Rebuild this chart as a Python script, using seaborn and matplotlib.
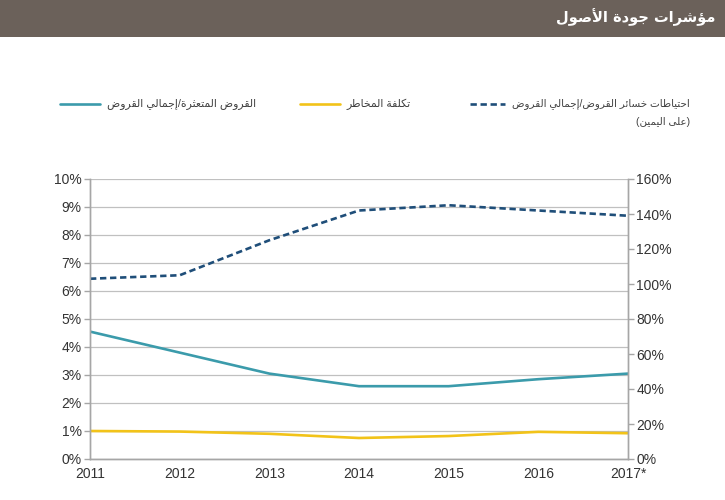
import numpy as np
import pandas as pd
import seaborn as sns
import matplotlib.pyplot as plt
from matplotlib.patches import Rectangle
from matplotlib.lines import Line2D

years = ["2011", "2012", "2013", "2014", "2015", "2016", "2017*"]
npl_ratio = [4.55, 3.8, 3.05, 2.6, 2.6, 2.85, 3.05]
cost_of_risk = [1.0, 0.98, 0.9, 0.75, 0.82, 0.97, 0.92]
coverage_ratio = [103, 105, 125, 142, 145, 142, 139]

title = "مؤشرات جودة الأصول"
lbl_npl = "القروض المتعثرة/إجمالي القروض"
lbl_cor = "تكلفة المخاطر"
lbl_cov1 = "احتياطات خسائر القروض/إجمالي القروض"
lbl_cov2 = "(على اليمين)"

TEAL = "#3b9bab"
YELLOW = "#f2c319"
NAVY = "#1f4e79"
GRID = "#c0c0c0"
AXIS = "#a6a6a6"
DASH = (0, (2.4, 1.4))

# --- minimal Arabic shaping (matplotlib has no bidi/joining support) ---
_letters = [("ء", 1), ("آ", 2), ("أ", 2), ("ؤ", 2), ("إ", 2), ("ئ", 4), ("ا", 2),
            ("ب", 4), ("ة", 2), ("ت", 4), ("ث", 4), ("ج", 4), ("ح", 4), ("خ", 4),
            ("د", 2), ("ذ", 2), ("ر", 2), ("ز", 2), ("س", 4), ("ش", 4), ("ص", 4),
            ("ض", 4), ("ط", 4), ("ظ", 4), ("ع", 4), ("غ", 4), ("ف", 4), ("ق", 4),
            ("ك", 4), ("ل", 4), ("م", 4), ("ن", 4), ("ه", 4), ("و", 2), ("ى", 2),
            ("ي", 4)]
FORMS = {}
_cp = 0xFE80
for ch, n in _letters:
    FORMS[ch] = [chr(_cp + k) for k in range(n)]
    _cp += n
LAMALEF = {"آ": 0xFEF5, "أ": 0xFEF7, "إ": 0xFEF9, "ا": 0xFEFB}
MIRROR = {"(": ")", ")": "("}


def shape(text):
    out = []
    chars = list(text)
    i = 0
    while i < len(chars):
        c = chars[i]
        prev = chars[i - 1] if i > 0 else ""
        joins_prev = prev in FORMS and len(FORMS[prev]) == 4
        if c == "ل" and i + 1 < len(chars) and chars[i + 1] in LAMALEF:
            out.append(chr(LAMALEF[chars[i + 1]] + (1 if joins_prev else 0)))
            i += 2
            continue
        if c not in FORMS:
            out.append(MIRROR.get(c, c))
            i += 1
            continue
        f = FORMS[c]
        nxt = chars[i + 1] if i + 1 < len(chars) else ""
        joins_next = len(f) == 4 and nxt in FORMS
        if len(f) == 1:
            out.append(f[0])
        elif joins_prev and joins_next:
            out.append(f[3])
        elif joins_prev:
            out.append(f[1])
        elif joins_next:
            out.append(f[2])
        else:
            out.append(f[0])
        i += 1
    return "".join(reversed(out))


sns.set_theme(style="white")
plt.rcParams["font.family"] = ["Liberation Sans", "DejaVu Sans"]

df = pd.DataFrame({"year": years, "npl": npl_ratio, "cor": cost_of_risk,
                   "cov": coverage_ratio})
df["x"] = np.arange(len(years))

fig = plt.figure(figsize=(7.25, 5), dpi=100)
fig.patch.set_facecolor("white")

# header band
fig.patches.append(Rectangle((0, 1 - 37 / 500), 1, 37 / 500, transform=fig.transFigure,
                             facecolor="#6b615a", edgecolor="none", zorder=0))
fig.text(715 / 725, 1 - 17 / 500, shape(title), color="white", fontsize=10.5,
         fontweight="bold", ha="right", va="center", family=["DejaVu Sans"])

ax = fig.add_axes([90 / 725, 41 / 500, 538 / 725, 280 / 500])
ax2 = ax.twinx()

sns.lineplot(data=df, x="x", y="npl", ax=ax, color=TEAL, linewidth=1.9)
sns.lineplot(data=df, x="x", y="cor", ax=ax, color=YELLOW, linewidth=1.9)
sns.lineplot(data=df, x="x", y="cov", ax=ax2, color=NAVY, linewidth=1.9,
             linestyle=DASH)

ax.set_xlim(0, len(years) - 1)
ax.set_ylim(0, 10)
ax2.set_ylim(0, 160)
ax.set_yticks(range(0, 11))
ax.set_yticklabels([f"{v}%" for v in range(0, 11)])
ax2.set_yticks(range(0, 161, 20))
ax2.set_yticklabels([f"{v}%" for v in range(0, 161, 20)])
ax.set_xticks(df["x"])
ax.set_xticklabels(years)
ax.set_xlabel("")
ax.set_ylabel("")
ax2.set_ylabel("")

ax.grid(axis="y", color=GRID, linewidth=0.9)
ax.set_axisbelow(True)
for a in (ax, ax2):
    a.spines["top"].set_visible(False)
    for s in ("left", "right", "bottom"):
        a.spines[s].set_color(AXIS)
        a.spines[s].set_linewidth(1.0)
    a.tick_params(colors="#333333", labelsize=10, length=4, color=AXIS, width=1.0, pad=2)

# legend (drawn manually to match the right-to-left layout)
ly = 1 - 104 / 500
fig.add_artist(Line2D([60 / 725, 100 / 725], [ly, ly], color=TEAL, linewidth=1.9,
                      transform=fig.transFigure))
fig.text(107 / 725, ly, shape(lbl_npl), fontsize=7.8, color="#404040", ha="left", va="center")
fig.add_artist(Line2D([300 / 725, 340 / 725], [ly, ly], color=YELLOW, linewidth=1.9,
                      transform=fig.transFigure))
fig.text(346 / 725, ly, shape(lbl_cor), fontsize=7.8, color="#404040", ha="left", va="center")
fig.add_artist(Line2D([470 / 725, 505 / 725], [ly, ly], color=NAVY, linewidth=1.9,
                      linestyle=DASH, transform=fig.transFigure))
fig.text(512 / 725, ly, shape(lbl_cov1), fontsize=7.5, color="#404040", ha="left", va="center")
fig.text(690 / 725, 1 - 122 / 500, shape(lbl_cov2), fontsize=7.5, color="#404040",
         ha="right", va="center")

fig.savefig("out.png", dpi=100)
